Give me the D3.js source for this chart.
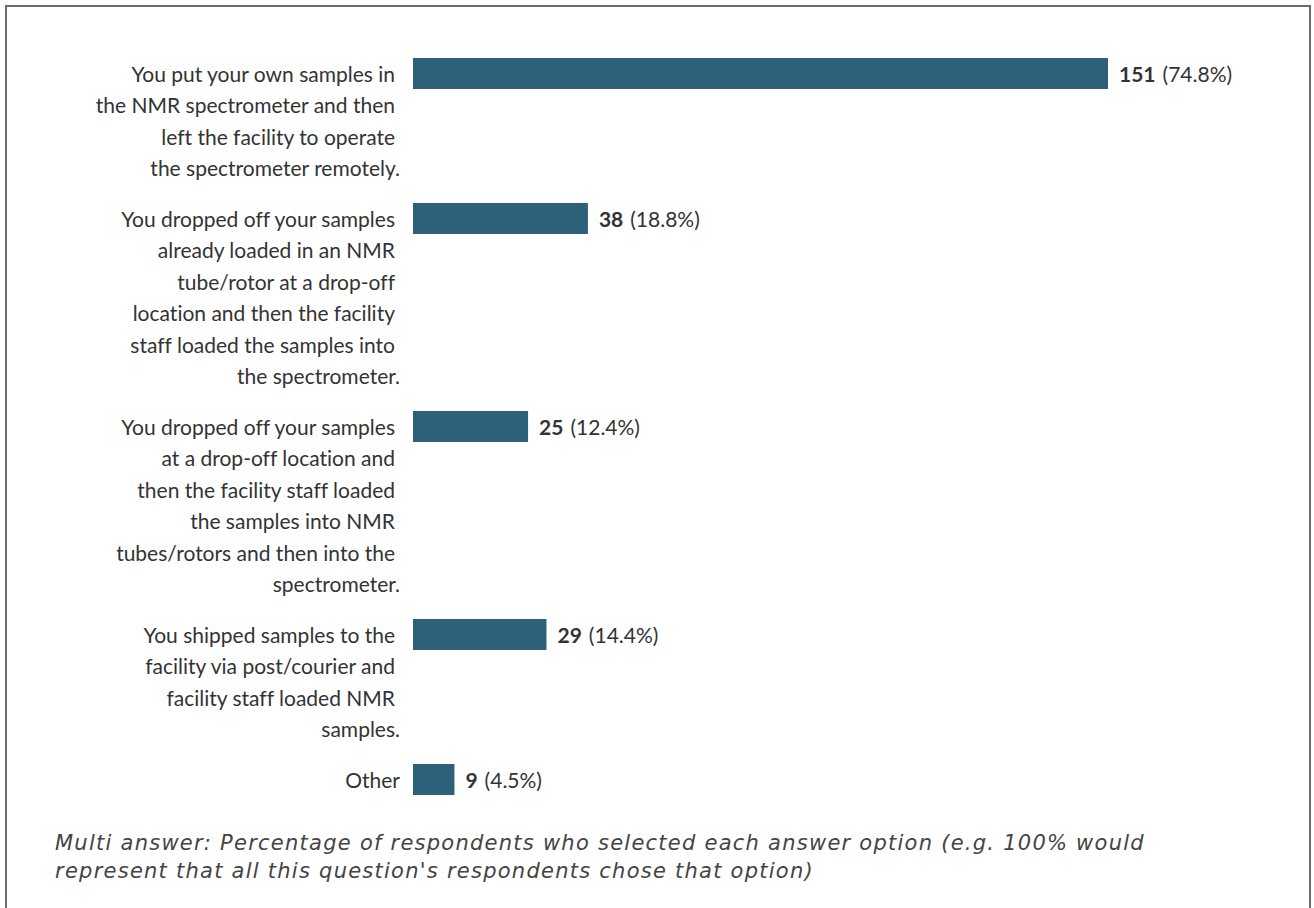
<!DOCTYPE html>
<html>
<head>
<meta charset="utf-8">
<script src="https://cdn.jsdelivr.net/npm/d3@7"></script>
<style>
  html, body { margin: 0; padding: 0; background: #fff; }
  svg { display: block; }
  text { font-variant-ligatures: none; }
</style>
</head>
<body>
<svg id="chart" width="1314" height="908"></svg>
<script>
// Answer options, each already broken into its display lines
const categories = [
  ["You put your own samples in", "the NMR spectrometer and then", "left the facility to operate", "the spectrometer remotely."],
  ["You dropped off your samples", "already loaded in an NMR", "tube/rotor at a drop-off", "location and then the facility", "staff loaded the samples into", "the spectrometer."],
  ["You dropped off your samples", "at a drop-off location and", "then the facility staff loaded", "the samples into NMR", "tubes/rotors and then into the", "spectrometer."],
  ["You shipped samples to the", "facility via post/courier and", "facility staff loaded NMR", "samples."],
  ["Other"]
];
const counts = [151, 38, 25, 29, 9];
const percents = ["74.8%", "18.8%", "12.4%", "14.4%", "4.5%"];
const footnote = [
  "Multi answer: Percentage of respondents who selected each answer option (e.g. 100% would",
  "represent that all this question's respondents chose that option)"
];

const svg = d3.select("#chart");
const barColor = "#2d6179";
const textColor = "#333333";
const lineH = 31.5, blockGap = 19, barH = 31;
const plotLeft = 413, plotTop = 58;

// Frame around the whole panel
svg.append("rect")
  .attr("x", 6).attr("y", 6).attr("width", 1304).attr("height", 940)
  .attr("fill", "none").attr("stroke", "#6b6b6b").attr("stroke-width", 2);

const x = d3.scaleLinear().domain([0, d3.max(counts)]).range([0, 695]);

// Each block is as tall as its wrapped label
const offsets = [];
categories.reduce((acc, lines, i) => { offsets[i] = acc; return acc + lines.length * lineH + blockGap; }, 0);
const rowY = i => plotTop + offsets[i];

const rows = svg.append("g").selectAll("g.row")
  .data(counts.map((c, i) => ({ c, i, lines: categories[i], pct: percents[i] })))
  .join("g").attr("class", "row")
  .attr("transform", d => `translate(0,${rowY(d.i)})`);

rows.append("rect")
  .attr("x", plotLeft).attr("y", 0)
  .attr("width", d => x(d.c)).attr("height", barH)
  .attr("fill", barColor);

const lbl = rows.append("text")
  .attr("text-anchor", "end")
  .attr("font-family", "Lato, sans-serif")
  .attr("font-size", 21)
  .attr("fill", textColor);
lbl.selectAll("tspan")
  .data(d => d.lines.map((t, k) => ({ t, k, last: k === d.lines.length - 1 })))
  .join("tspan")
  .attr("x", d => d.last ? 400 : 395)
  .attr("y", d => 23.5 + d.k * lineH)
  .text(d => d.t);

const val = rows.append("text")
  .attr("x", d => plotLeft + x(d.c) + 11)
  .attr("y", 23.5)
  .attr("font-family", "Lato, sans-serif")
  .attr("font-size", 21)
  .attr("fill", textColor);
val.append("tspan").attr("font-weight", "bold").text(d => d.c);
val.append("tspan").attr("dx", 7).text(d => `(${d.pct})`);

svg.append("text")
  .attr("font-family", "'DejaVu Sans', sans-serif")
  .attr("font-style", "italic")
  .attr("font-size", 21)
  .attr("letter-spacing", 1.25)
  .attr("fill", "#444444")
  .selectAll("tspan").data(footnote).join("tspan")
  .attr("x", 55).attr("y", (d, i) => 850 + i * 28)
  .text(d => d);
</script>
</body>
</html>
